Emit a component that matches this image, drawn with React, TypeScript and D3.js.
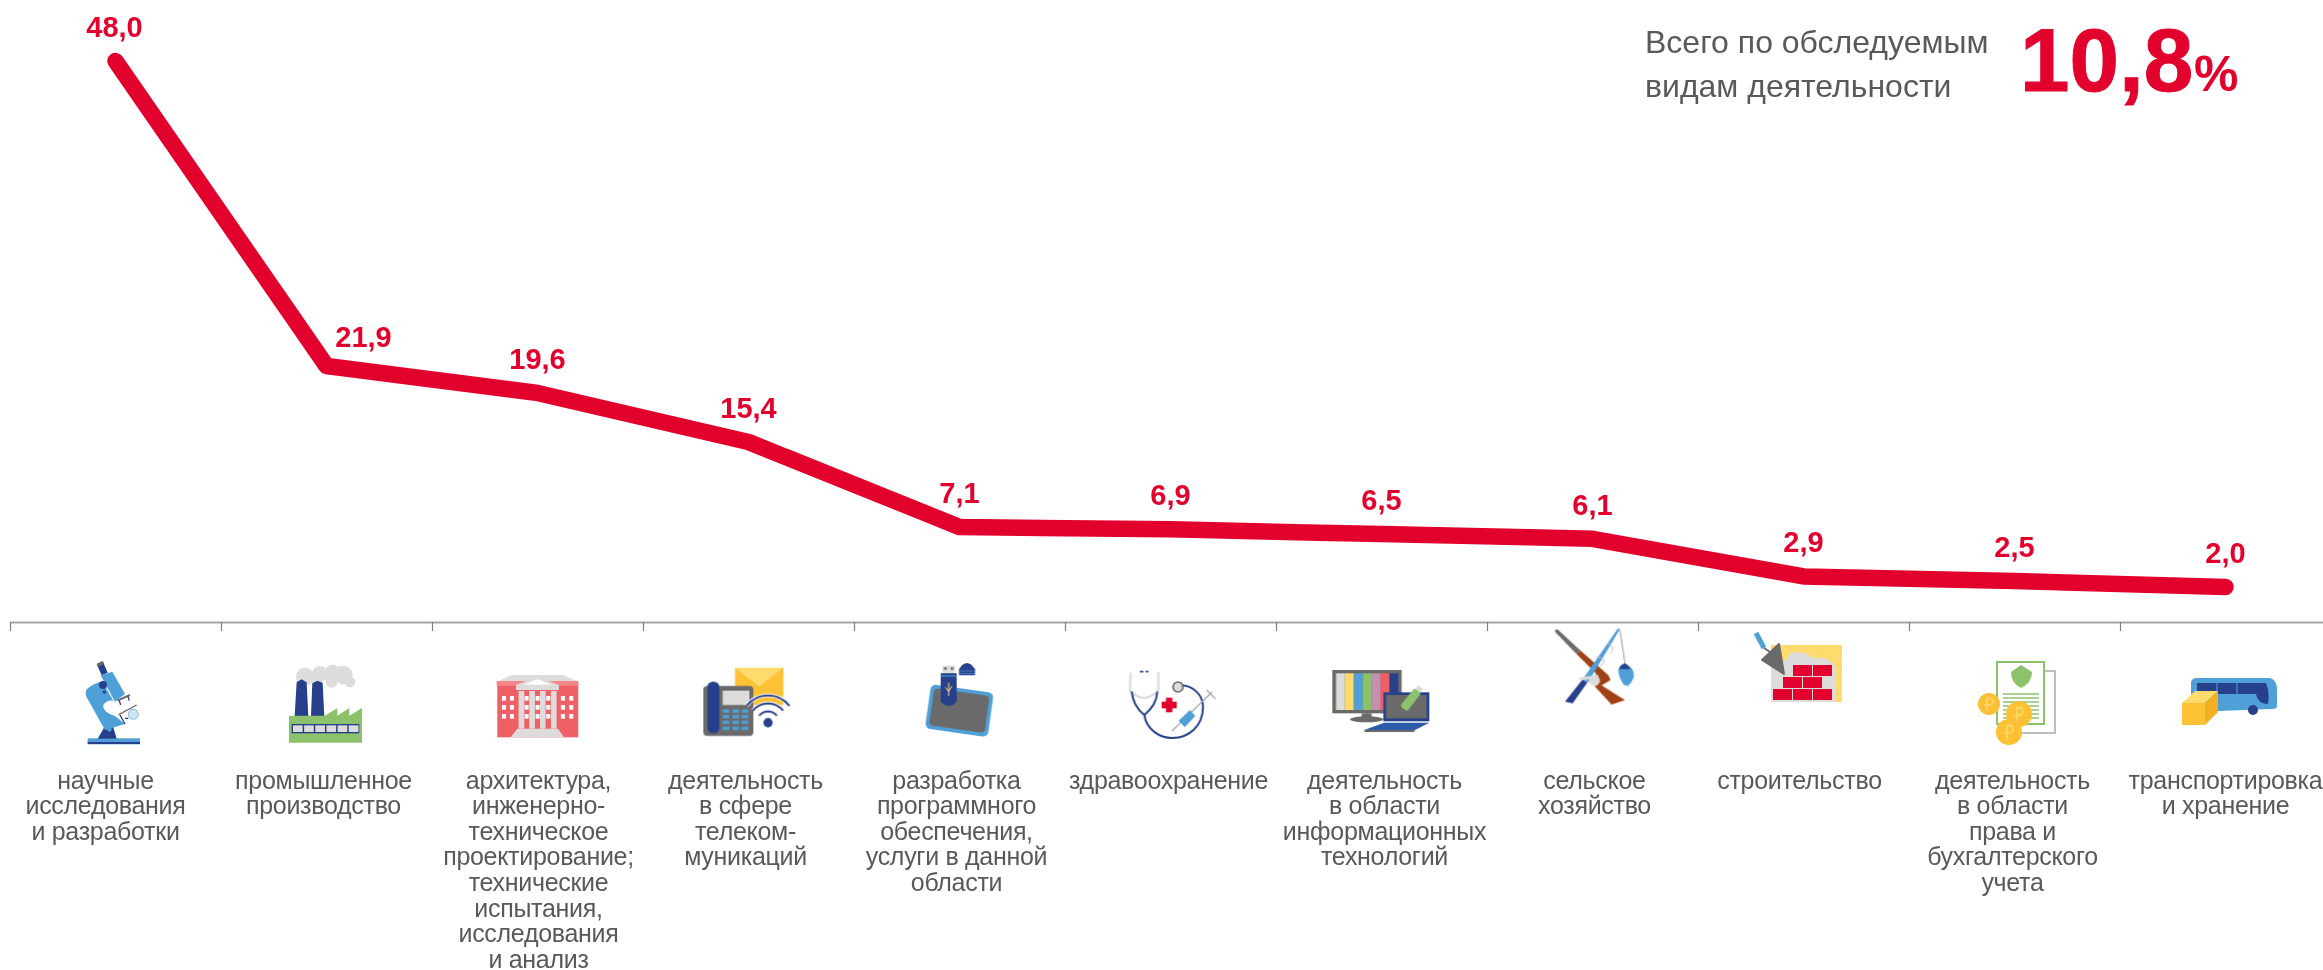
import React, { useEffect, useRef } from "react";
import * as d3 from "d3";

const categories = [
  ["научные", "исследования", "и разработки"],
  ["промышленное", "производство"],
  ["архитектура,", "инженерно-", "техническое", "проектирование;", "технические", "испытания,", "исследования", "и анализ"],
  ["деятельность", "в сфере", "телеком-", "муникаций"],
  ["разработка", "программного", "обеспечения,", "услуги в данной", "области"],
  ["здравоохранение"],
  ["деятельность", "в области", "информационных", "технологий"],
  ["сельское", "хозяйство"],
  ["строительство"],
  ["деятельность", "в области", "права и", "бухгалтерского", "учета"],
  ["транспортировка", "и хранение"],
];
const values = [48.0, 21.9, 19.6, 15.4, 7.1, 6.9, 6.5, 6.1, 2.9, 2.5, 2.0];
const totalValue = 10.8;
const totalLabel = ["Всего по обследуемым", "видам деятельности"];

// small hand adjustments, the source layout is not quite regular
const categoryNudge = [-10, -3, 1, -3, -3, -2, 3, 2, -4, -2, 0];
const valueNudge = [-1, 37, 0, 0, 0, 0, 0, 0, 0, 0, 0];
const valueLift = [24, 19, 24, 24, 24, 24, 24, 24, 24, 24, 24];

const W = 2323;
const H = 970;
const RED = "#e2002d";
const GREY = "#595959";
const FONT = "'Liberation Sans', Arial, sans-serif";
const DARK = "#27408b";
const BLUE = "#4f9fd9";
const YELLOW = "#fdc135";
const LYELLOW = "#ffdb6e";
const LGREY = "#dddcda";
const MGREY = "#6b6b6b";
const GREEN = "#8cc26c";
const PINK = "#ee6065";

const fmt = (v: number) => v.toFixed(1).replace(".", ",");

// the picture's line is not strictly to scale, so the y scale has knots
const yScale = d3.scaleLinear().domain([2, 7.1, 15.4, 48]).range([587, 527, 442, 61]);
const xEdge = d3.scaleLinear().domain([0, 11]).range([10, 2331]);
const xCenter = (i: number) => xEdge(i + 0.5);

function Icons() {
  return (
    <g filter="url(#soft)">
      {/* microscope, factory, building */}
      <g transform="translate(60 650) scale(0.3333)">
        <rect x={83} y={265} width={157} height={18} fill={BLUE} />
        <rect x={83} y={276} width={157} height={6} fill={DARK} />
        <path d="M113 266 L133 232 L158 226 L170 266 Z" fill={DARK} />
        <path d="M110 42 L128 33 L143 68 L125 76 Z" fill={DARK} />
        <path d="M110 42 L128 33 L132 42 L114 50 Z" fill={MGREY} />
        <path d="M122 76 L157 65 L195 132 L165 155 Z" fill={BLUE} />
        <path d="M80 118 Q100 98 128 95 L160 152 Q140 148 130 165 Q126 185 165 198 L195 222 L135 240 L80 142 Q74 128 80 118 Z" fill={BLUE} />
        <circle cx={129} cy={105} r={12} fill={DARK} />
        <circle cx={133} cy={126} r={5} fill={DARK} />
        <path d="M172 152 L210 135" stroke={MGREY} strokeWidth={6} />
        <path d="M178 152 L182 165 M204 140 L208 152" stroke={DARK} strokeWidth={4} />
        <path d="M176 194 L230 165" stroke={MGREY} strokeWidth={4} />
        <path d="M180 195 L195 222 M195 205 L205 205" stroke={DARK} strokeWidth={4} fill="none" />
        <circle cx={220} cy={193} r={15} fill="#cfe3f3" stroke={BLUE} strokeWidth={2} />
        <circle cx={148} cy={238} r={7} fill={BLUE} />

        <g fill={LGREY}>
          <circle cx={735} cy={80} r={27} />
          <circle cx={780} cy={72} r={24} />
          <circle cx={818} cy={68} r={24} />
          <circle cx={850} cy={75} r={28} />
          <circle cx={870} cy={96} r={16} />
          <circle cx={815} cy={95} r={18} />
          <circle cx={765} cy={92} r={14} />
        </g>
        <path d="M704 198 L710 97 L725 88 L740 97 L745 198 Z" fill={DARK} />
        <path d="M753 198 L757 100 L772 92 L788 98 L793 198 Z" fill={DARK} />
        <path d="M687 197 L795 197 L832 174 L832 197 L868 174 L868 197 L906 174 L906 278 L687 278 Z" fill={GREEN} />
        <rect x={695} y={222} width={203} height={28} fill={DARK} />
        {d3.range(6).map((i) => (
          <rect key={i} x={699 + i * 33.5} y={226} width={29} height={20} fill={LGREY} />
        ))}

        <path d="M1310 95 L1355 75 L1510 75 L1555 95 Z" fill={LGREY} />
        <rect x={1312} y={95} width={243} height={167} fill={PINK} />
        <rect x={1310} y={93} width={245} height={14} fill="#f3888b" />
        <path d="M1368 105 L1432 80 L1497 105 L1497 120 L1368 120 Z" fill={LGREY} />
        <path d="M1390 104 L1432 88 L1475 104 Z" fill="#ffffff" />
        {[138, 165, 192].map((y) =>
          [1326, 1350, 1394, 1427, 1459, 1503, 1528].map((x) => (
            <rect key={x + "-" + y} x={x} y={y} width={12} height={14} fill="#ffffff" />
          ))
        )}
        {[1376, 1408, 1440, 1473].map((x) => (
          <rect key={x} x={x} y={123} width={17} height={113} fill={LGREY} />
        ))}
        <path d="M1372 236 L1494 236 L1512 262 L1352 262 Z" fill={LGREY} />
      </g>

      {/* phone, usb stick, stethoscope */}
      <g transform="translate(680 650) scale(0.3333)">
        <rect x={165} y={53} width={145} height={112} fill={YELLOW} />
        <path d="M165 53 L310 53 L237 110 Z" fill={LYELLOW} />
        <rect x={70} y={108} width={150} height={150} rx={12} fill={MGREY} />
        <rect x={82} y={95} width={36} height={155} rx={16} fill={DARK} />
        <rect x={128} y={122} width={80} height={43} fill={LGREY} />
        {[178, 195, 212, 230].map((y) =>
          [128, 157, 185].map((x) => <rect key={x + "-" + y} x={x} y={y} width={20} height={10} fill={BLUE} />)
        )}
        {[34, 58, 82].map((r) => (
          <path
            key={r}
            d={d3.arc()({ innerRadius: r, outerRadius: r, startAngle: -0.9, endAngle: 0.9 }) || ""}
            transform="translate(264 218)"
            fill="none"
            stroke="#ffffff"
            strokeWidth={11}
          />
        ))}
        {[34, 58, 82].map((r) => (
          <path
            key={r}
            d={d3.arc()({ innerRadius: r, outerRadius: r, startAngle: -0.9, endAngle: 0.9 }) || ""}
            transform="translate(264 218)"
            fill="none"
            stroke={DARK}
            strokeWidth={6}
          />
        ))}
        <circle cx={264} cy={218} r={14} fill={DARK} />

        <g transform="rotate(8 838 182)">
          <rect x={743} y={115} width={190} height={134} rx={16} fill={BLUE} />
          <rect x={754} y={126} width={168} height={112} rx={12} fill={MGREY} />
        </g>
        <rect x={787} y={47} width={38} height={26} fill={LGREY} />
        <rect x={792} y={52} width={8} height={7} fill={MGREY} />
        <rect x={812} y={52} width={8} height={7} fill={MGREY} />
        <path d="M782 70 L830 70 L830 155 Q806 180 782 155 Z" fill={DARK} />
        <path d="M782 78 L830 78" stroke={BLUE} strokeWidth={3} />
        <path d="M806 98 L806 138 M796 112 L806 124 L816 108" stroke={LYELLOW} strokeWidth={3} fill="none" />
        <path d="M837 76 L837 58 Q860 20 885 58 L885 76 Z" fill={DARK} />
        <path d="M837 63 L885 63 M837 71 L885 71" stroke={BLUE} strokeWidth={2} />

        <path d="M1352 68 L1350 122 Q1390 165 1435 122 L1435 66" stroke={LGREY} strokeWidth={7} fill="none" />
        <path d="M1380 65 L1390 65 M1397 65 L1405 65" stroke={DARK} strokeWidth={5} />
        <path d="M1355 125 Q1360 170 1393 195 Q1430 165 1432 125" stroke={DARK} strokeWidth={6} fill="none" />
        <path d="M1393 195 C1400 240 1440 264 1476 264 C1530 264 1569 225 1569 171 C1569 135 1540 108 1505 106" stroke={DARK} strokeWidth={6} fill="none" />
        <circle cx={1494} cy={111} r={15} fill={LGREY} stroke={MGREY} strokeWidth={5} />
        <rect x={1445} y={155} width={45} height={20} fill={RED} />
        <rect x={1458} y={143} width={19} height={44} fill={RED} />
        <path d="M1476 243 L1596 126 M1580 120 L1606 146" stroke="#a9a9a9" strokeWidth={4} />
        <path d="M1496 212 L1530 180 L1546 198 L1514 232 Z" fill={BLUE} />
      </g>

      {/* monitor, rod and gun */}
      <g transform="translate(1300 620) scale(0.3333)">
        <rect x={97} y={150} width={208} height={130} fill={MGREY} />
        {[LGREY, LYELLOW, BLUE, GREEN, "#c48fb0", PINK, DARK].map((c, i) => (
          <rect key={c} x={108 + i * 26.7} y={160} width={26.7} height={110} fill={c} />
        ))}
        <rect x={185} y={280} width={30} height={14} fill={MGREY} />
        <ellipse cx={200} cy={298} rx={50} ry={9} fill={MGREY} />
        <rect x={250} y={217} width={138} height={87} fill={DARK} />
        <rect x={258} y={225} width={122} height={70} fill={MGREY} />
        <path d="M252 308 L388 308 L345 330 L193 330 Z" fill="#2a5aa8" />
        <path d="M193 330 L345 330 L342 336 L193 336 Z" fill={MGREY} />
        <g transform="rotate(38 335 235)">
          <rect x={322} y={205} width={26} height={70} rx={8} fill={GREEN} />
          <rect x={326} y={192} width={18} height={14} fill={LGREY} />
        </g>

        <path d="M763 33 L772 27 L842 92 L830 102 Z" fill={MGREY} />
        <path d="M830 102 L842 92 L925 165 L932 180 L905 196 L975 240 L935 254 L885 200 L888 160 Z" fill="#a04113" />
        <path d="M795 245 L848 178 L862 188 L818 250 Z" fill={DARK} />
        <path d="M848 178 L954 25 L960 27 L864 188 Z" fill={BLUE} />
        <path d="M960 30 L975 130" stroke="#9a9a9a" strokeWidth={3} />
        <path d="M925 70 Q950 85 930 100 M890 110 Q930 115 900 140" stroke="#bdbdbd" strokeWidth={3} fill="none" />
        <path d="M838 178 L895 168" stroke={LGREY} strokeWidth={9} />
        <circle cx={884} cy={182} r={16} fill={LGREY} />
        <path d="M975 130 Q1005 145 1002 170 Q995 190 985 195 L990 198 L972 195 Q955 170 955 150 Q958 135 975 130 Z" fill={BLUE} />
        <path d="M975 130 Q960 135 958 147 L992 147 Q985 135 975 130 Z" fill={DARK} />
      </g>

      {/* trowel and bricks */}
      <g>
        <rect x={1771} y={645} width={71} height={57} fill={LYELLOW} />
        <path d="M1771 702 L1771 665 Q1785 665 1790 653 Q1805 650 1812 658 Q1830 655 1836 668 L1836 702 Z" fill={LGREY} />
        {[
          [1793, 665], [1813, 665],
          [1783, 677], [1803, 677],
          [1773, 689], [1793, 689], [1813, 689],
        ].map(([x, y]) => (
          <rect key={x + "-" + y} x={x} y={y} width={19} height={11} fill={RED} />
        ))}
        <path d="M1779 644 L1784 674 L1762 660 Z" fill={MGREY} stroke={MGREY} strokeWidth={2} strokeLinejoin="round" />
        <path d="M1756 633 L1764 648" stroke={BLUE} strokeWidth={5} />
        <path d="M1764 648 L1770 652" stroke={MGREY} strokeWidth={2} />
      </g>

      {/* document and coins */}
      <g>
        <rect x={2004} y={671} width={51} height={62} fill="#ffffff" stroke="#bdbdbd" strokeWidth={2} />
        <rect x={1997} y={662} width={47} height={62} fill="#ffffff" stroke={GREEN} strokeWidth={2} />
        <path d="M2021 665 L2032 672 Q2032 683 2021 688 Q2011 683 2011 672 Z" fill={GREEN} />
        {d3.range(7).map((i) => (
          <path key={i} d={`M2003 ${694 + i * 4} L2039 ${694 + i * 4}`} stroke={GREEN} strokeWidth={1.5} />
        ))}
        {[
          [1989, 704, 11],
          [2019, 714, 13],
          [2009, 732, 13],
        ].map(([x, y, r]) => (
          <g key={x}>
            <circle cx={x} cy={y} r={r} fill={YELLOW} />
            <path d={`M${x - 2} ${y + r * 0.6} L${x - 2} ${y - r * 0.5} L${x + 2} ${y - r * 0.5} Q${x + 6} ${y - r * 0.2} ${x + 2} ${y + 1} L${x - 5} ${y + 1}`} fill="none" stroke={LYELLOW} strokeWidth={1.5} />
          </g>
        ))}
      </g>

      {/* bus and parcel */}
      <g>
        <path d="M2191 682 Q2192 678 2197 678 L2270 678 Q2277 680 2277 690 L2277 706 Q2277 709 2272 709 L2191 712 Z" fill={BLUE} />
        <rect x={2197} y={683} width={62} height={11} fill={DARK} />
        <path d="M2217 683 L2217 694 M2237 683 L2237 694" stroke={BLUE} strokeWidth={1} />
        <path d="M2256 683 L2266 683 Q2270 692 2268 704 Q2258 704 2256 694 Z" fill={DARK} />
        <circle cx={2253} cy={710} r={5} fill={DARK} />
        <path d="M2182 703 L2205 703 L2205 725 L2182 725 Z" fill={YELLOW} />
        <path d="M2182 703 L2195 691 L2218 691 L2205 703 Z" fill={LYELLOW} />
        <path d="M2205 703 L2218 691 L2218 712 L2205 725 Z" fill="#f2b020" />
      </g>
    </g>
  );
}

export default function App() {
  const ref = useRef<SVGGElement>(null);

  useEffect(() => {
    const g = d3.select(ref.current);
    g.selectAll("*").remove();

    // axis, ticks sit on the edges between the categories
    const axis = g
      .append("g")
      .attr("transform", "translate(0,622)")
      .call(
        d3
          .axisBottom(xEdge)
          .tickValues(d3.range(11))
          .tickSizeInner(9)
          .tickSizeOuter(0)
          .tickFormat(() => "")
      );
    axis.select(".domain").attr("stroke", "#a6a6a6").attr("stroke-width", 2);
    axis.selectAll(".tick line").attr("stroke", "#7f7f7f").attr("stroke-width", 1.2);

    // Add the line
    const line = d3
      .line<number>()
      .x((d, i) => xCenter(i))
      .y((d) => yScale(d));
    g.append("path")
      .datum(values)
      .attr("fill", "none")
      .attr("stroke", RED)
      .attr("stroke-width", 16.5)
      .attr("stroke-linecap", "round")
      .attr("stroke-linejoin", "round")
      .attr("d", line);

    // value labels
    g.selectAll(".value")
      .data(values)
      .join("text")
      .attr("class", "value")
      .attr("x", (d, i) => xCenter(i) + valueNudge[i])
      .attr("y", (d, i) => yScale(d) - valueLift[i])
      .attr("text-anchor", "middle")
      .attr("font-family", FONT)
      .attr("font-weight", "bold")
      .attr("font-size", 29)
      .attr("fill", RED)
      .text((d) => fmt(d));

    // category labels
    const cat = g
      .selectAll(".cat")
      .data(categories)
      .join("text")
      .attr("class", "cat")
      .attr("text-anchor", "middle")
      .attr("font-family", FONT)
      .attr("font-size", 25)
      .attr("letter-spacing", -0.3)
      .attr("fill", GREY);
    cat
      .selectAll("tspan")
      .data((d, i) => d.map((t) => ({ t, i })))
      .join("tspan")
      .attr("x", (d) => xCenter(d.i) + categoryNudge[d.i])
      .attr("y", (d, j) => 788.5 + j * 25.6)
      .text((d) => d.t);

    // total in the corner
    g.selectAll(".total")
      .data(totalLabel)
      .join("text")
      .attr("class", "total")
      .attr("x", 1645)
      .attr("y", (d, i) => 53 + i * 44)
      .attr("font-family", FONT)
      .attr("font-size", 32)
      .attr("fill", GREY)
      .text((d) => d);
    g.append("text")
      .attr("x", 2020)
      .attr("y", 91)
      .attr("font-family", FONT)
      .attr("font-weight", "bold")
      .attr("font-size", 89)
      .attr("stroke", RED)
      .attr("stroke-width", 1)
      .attr("fill", RED)
      .text(fmt(totalValue));
    g.append("text")
      .attr("x", 2194)
      .attr("y", 91)
      .attr("font-family", FONT)
      .attr("font-weight", "bold")
      .attr("font-size", 50)
      .attr("fill", RED)
      .text("%");
  }, []);

  return (
    <svg width={W} height={H} style={{ position: "absolute", left: 0, top: 0, display: "block", background: "#fff" }}>
      <defs>
        <filter id="soft" x="0" y="0" width="100%" height="100%" filterUnits="objectBoundingBox">
          <feGaussianBlur stdDeviation="0.4" />
        </filter>
      </defs>
      <Icons />
      <g ref={ref} />
    </svg>
  );
}
